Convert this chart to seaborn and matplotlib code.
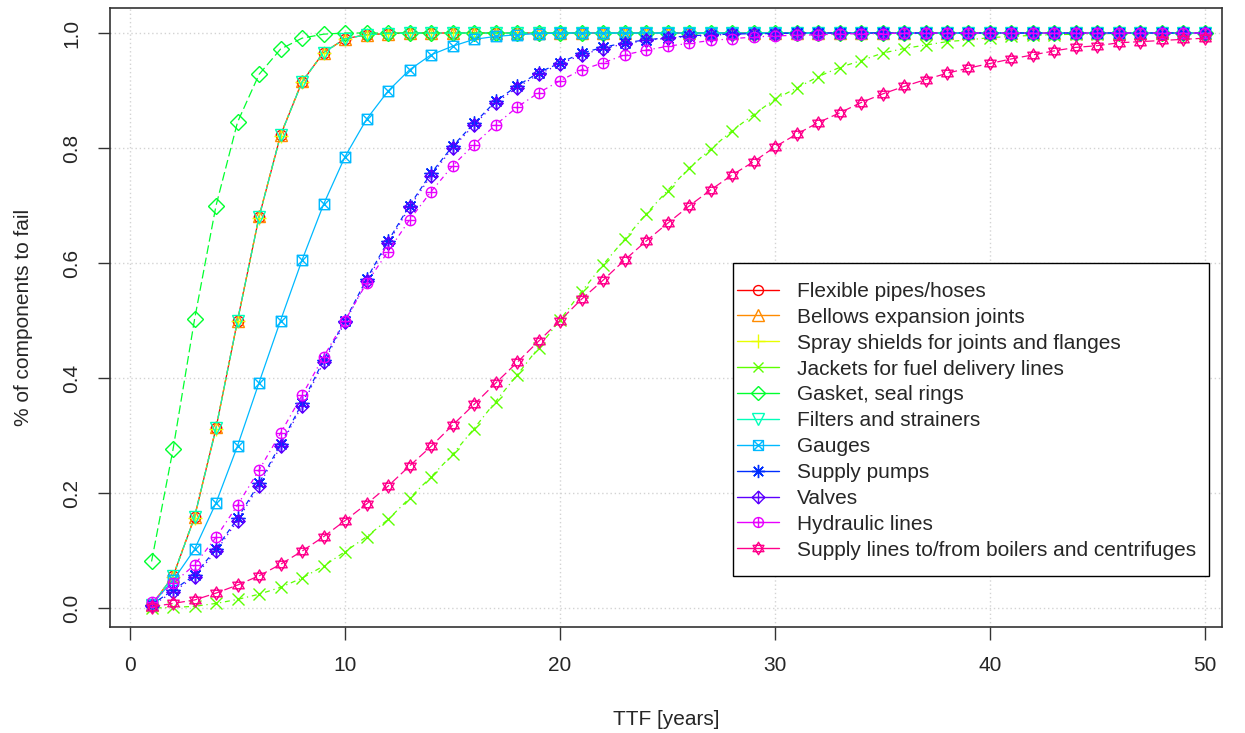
import matplotlib
matplotlib.use("Agg")
import matplotlib.pyplot as plt
from matplotlib.path import Path
from matplotlib.lines import Line2D
from matplotlib.patches import Rectangle
import seaborn as sns
import numpy as np

# time to failure [years]
ttf = list(range(1, 51))

flexible_pipes = [0.005, 0.055, 0.158, 0.313, 0.500, 0.680, 0.822, 0.915, 0.966, 0.990,
                  0.997, 0.999, 1.0, 1.0, 1.0, 1.0, 1.0, 1.0, 1.0, 1.0,
                  1.0, 1.0, 1.0, 1.0, 1.0, 1.0, 1.0, 1.0, 1.0, 1.0,
                  1.0, 1.0, 1.0, 1.0, 1.0, 1.0, 1.0, 1.0, 1.0, 1.0,
                  1.0, 1.0, 1.0, 1.0, 1.0, 1.0, 1.0, 1.0, 1.0, 1.0]
bellows_joints = [0.005, 0.056, 0.159, 0.314, 0.500, 0.681, 0.823, 0.916, 0.966, 0.990,
                  0.997, 0.999, 1.0, 1.0, 1.0, 1.0, 1.0, 1.0, 1.0, 1.0,
                  1.0, 1.0, 1.0, 1.0, 1.0, 1.0, 1.0, 1.0, 1.0, 1.0,
                  1.0, 1.0, 1.0, 1.0, 1.0, 1.0, 1.0, 1.0, 1.0, 1.0,
                  1.0, 1.0, 1.0, 1.0, 1.0, 1.0, 1.0, 1.0, 1.0, 1.0]
spray_shields = [0.005, 0.054, 0.157, 0.312, 0.499, 0.679, 0.821, 0.915, 0.965, 0.990,
                 0.997, 0.999, 1.0, 1.0, 1.0, 1.0, 1.0, 1.0, 1.0, 1.0,
                 1.0, 1.0, 1.0, 1.0, 1.0, 1.0, 1.0, 1.0, 1.0, 1.0,
                 1.0, 1.0, 1.0, 1.0, 1.0, 1.0, 1.0, 1.0, 1.0, 1.0,
                 1.0, 1.0, 1.0, 1.0, 1.0, 1.0, 1.0, 1.0, 1.0, 1.0]
fuel_jackets = [0.000, 0.001, 0.003, 0.008, 0.015, 0.024, 0.036, 0.052, 0.073, 0.098,
                0.124, 0.154, 0.191, 0.228, 0.267, 0.312, 0.359, 0.405, 0.453, 0.501,
                0.550, 0.597, 0.641, 0.685, 0.726, 0.765, 0.798, 0.830, 0.858, 0.885,
                0.904, 0.924, 0.940, 0.952, 0.965, 0.973, 0.979, 0.985, 0.988, 0.992,
                0.994, 0.996, 0.997, 0.998, 0.999, 0.999, 1.0, 1.0, 1.0, 1.0]
gasket_rings = [0.081, 0.276, 0.502, 0.700, 0.845, 0.928, 0.972, 0.991, 0.998, 1.0,
                1.0, 1.0, 1.0, 1.0, 1.0, 1.0, 1.0, 1.0, 1.0, 1.0,
                1.0, 1.0, 1.0, 1.0, 1.0, 1.0, 1.0, 1.0, 1.0, 1.0,
                1.0, 1.0, 1.0, 1.0, 1.0, 1.0, 1.0, 1.0, 1.0, 1.0,
                1.0, 1.0, 1.0, 1.0, 1.0, 1.0, 1.0, 1.0, 1.0, 1.0]
filters = [0.005, 0.055, 0.158, 0.313, 0.500, 0.680, 0.822, 0.915, 0.966, 0.990,
           0.997, 0.999, 1.0, 1.0, 1.0, 1.0, 1.0, 1.0, 1.0, 1.0,
           1.0, 1.0, 1.0, 1.0, 1.0, 1.0, 1.0, 1.0, 1.0, 1.0,
           1.0, 1.0, 1.0, 1.0, 1.0, 1.0, 1.0, 1.0, 1.0, 1.0,
           1.0, 1.0, 1.0, 1.0, 1.0, 1.0, 1.0, 1.0, 1.0, 1.0]
gauges = [0.006, 0.048, 0.102, 0.183, 0.282, 0.392, 0.500, 0.605, 0.702, 0.785,
          0.850, 0.899, 0.936, 0.962, 0.977, 0.989, 0.994, 0.997, 0.999, 1.0,
          1.0, 1.0, 1.0, 1.0, 1.0, 1.0, 1.0, 1.0, 1.0, 1.0,
          1.0, 1.0, 1.0, 1.0, 1.0, 1.0, 1.0, 1.0, 1.0, 1.0,
          1.0, 1.0, 1.0, 1.0, 1.0, 1.0, 1.0, 1.0, 1.0, 1.0]
supply_pumps = [0.006, 0.031, 0.057, 0.103, 0.156, 0.217, 0.285, 0.356, 0.431, 0.500,
                0.572, 0.638, 0.700, 0.756, 0.803, 0.843, 0.881, 0.908, 0.931, 0.948,
                0.965, 0.975, 0.983, 0.988, 0.992, 0.995, 0.997, 0.998, 0.999, 0.999,
                1.0, 1.0, 1.0, 1.0, 1.0, 1.0, 1.0, 1.0, 1.0, 1.0,
                1.0, 1.0, 1.0, 1.0, 1.0, 1.0, 1.0, 1.0, 1.0, 1.0]
valves = [0.004, 0.028, 0.054, 0.099, 0.152, 0.213, 0.281, 0.352, 0.427, 0.497,
          0.568, 0.634, 0.697, 0.752, 0.800, 0.840, 0.878, 0.905, 0.928, 0.946,
          0.962, 0.973, 0.981, 0.987, 0.991, 0.994, 0.996, 0.998, 0.999, 0.999,
          1.0, 1.0, 1.0, 1.0, 1.0, 1.0, 1.0, 1.0, 1.0, 1.0,
          1.0, 1.0, 1.0, 1.0, 1.0, 1.0, 1.0, 1.0, 1.0, 1.0]
hydraulic_lines = [0.010, 0.043, 0.075, 0.123, 0.179, 0.240, 0.304, 0.370, 0.437, 0.500,
                   0.565, 0.620, 0.675, 0.724, 0.769, 0.806, 0.840, 0.871, 0.896, 0.917,
                   0.936, 0.948, 0.962, 0.970, 0.977, 0.982, 0.987, 0.990, 0.993, 0.995,
                   0.996, 0.997, 0.998, 0.999, 0.999, 1.0, 1.0, 1.0, 1.0, 1.0,
                   1.0, 1.0, 1.0, 1.0, 1.0, 1.0, 1.0, 1.0, 1.0, 1.0]
boiler_lines = [0.002, 0.008, 0.014, 0.026, 0.040, 0.056, 0.076, 0.099, 0.124, 0.152,
                0.181, 0.212, 0.247, 0.281, 0.318, 0.354, 0.391, 0.427, 0.464, 0.500,
                0.537, 0.570, 0.605, 0.638, 0.669, 0.699, 0.727, 0.753, 0.776, 0.802,
                0.824, 0.844, 0.861, 0.879, 0.894, 0.907, 0.919, 0.930, 0.939, 0.947,
                0.955, 0.962, 0.969, 0.975, 0.978, 0.983, 0.985, 0.987, 0.989, 0.991]

labels = ["Flexible pipes/hoses", "Bellows expansion joints",
          "Spray shields for joints and flanges", "Jackets for fuel delivery lines",
          "Gasket, seal rings", "Filters and strainers", "Gauges", "Supply pumps",
          "Valves", "Hydraulic lines", "Supply lines to/from boilers and centrifuges"]
series = [flexible_pipes, bellows_joints, spray_shields, fuel_jackets, gasket_rings,
          filters, gauges, supply_pumps, valves, hydraulic_lines, boiler_lines]

# R rainbow(11)
colors = ["#FF0000", "#FF8B00", "#E8FF00", "#5DFF00", "#00FF2E", "#00FFB9",
          "#00B9FF", "#002EFF", "#5D00FF", "#E800FF", "#FF008B"]


def compound(*parts):
    return Path.make_compound_path(*parts)


def seg(a, b):
    return Path([a, b], [Path.MOVETO, Path.LINETO])


# R plotting symbols pch 7, 9, 10, 11
square_x = compound(Path([(-1, -1), (1, -1), (1, 1), (-1, 1), (-1, -1)], closed=True),
                    seg((-1, -1), (1, 1)), seg((-1, 1), (1, -1)))
diamond_plus = compound(Path([(0, 1), (1, 0), (0, -1), (-1, 0), (0, 1)], closed=True),
                        seg((-1, 0), (1, 0)), seg((0, -1), (0, 1)))
circle_plus = compound(Path.unit_circle(), seg((-1, 0), (1, 0)), seg((0, -1), (0, 1)))
c30 = np.cos(np.pi / 6)
star_david = compound(Path([(0, 1), (c30, -0.5), (-c30, -0.5), (0, 1)], closed=True),
                      Path([(0, -1), (c30, 0.5), (-c30, 0.5), (0, -1)], closed=True))

markers = ["o", "^", "+", "x", "D", "v", square_x, (8, 2, 0), diamond_plus,
           circle_plus, star_david]
msizes = [7.5, 8.5, 10, 8, 8, 8.5, 7.5, 10, 9.5, 7.5, 9.5]
lstyles = ["-", (0, (4, 3)), (0, (1, 3)), (0, (1, 3, 4, 3)), (0, (7, 3)),
           (0, (2, 2, 6, 2)), "-", (0, (4, 3)), (0, (1, 3)), (0, (1, 3, 4, 3)), (0, (7, 3))]

sns.set_style("white")
plt.rcParams["font.family"] = ["Liberation Sans", "DejaVu Sans"]

fig = plt.figure(figsize=(12.45, 7.33), dpi=100)
ax = fig.add_axes([0.0884, 0.1446, 0.8931, 0.8445])

for vals, lab, col, mk, ms, ls in zip(series, labels, colors, markers, msizes, lstyles):
    sns.lineplot(x=ttf, y=vals, ax=ax, color=col, marker=mk, markersize=ms,
                 markerfacecolor="none", markeredgecolor=col, markeredgewidth=1.0,
                 linestyle=ls, linewidth=0.9, legend=False)

ax.set_xlim(-0.93, 50.79)
ax.set_ylim(-0.033, 1.0435)
ax.set_xticks([0, 10, 20, 30, 40, 50])
ax.set_yticks([0.0, 0.2, 0.4, 0.6, 0.8, 1.0])
ax.set_yticklabels(["0.0", "0.2", "0.4", "0.6", "0.8", "1.0"], rotation=90, va="center")
ax.grid(True, color="#D3D3D3", linestyle=(0, (1, 2)), linewidth=1.0)
ax.tick_params(axis="both", direction="out", length=9, width=1, color="#333333",
               labelsize=15, pad=12, bottom=True, left=True)
for sp in ax.spines.values():
    sp.set_color("#333333")
    sp.set_linewidth(1.2)

ax.set_xlabel("TTF [years]", fontsize=15, labelpad=25)
ax.set_ylabel("% of components to fail", fontsize=15, labelpad=21)

# legend frame drawn separately (R legend has more vertical than horizontal padding)
ax.add_patch(Rectangle((0.560, 0.0824), 0.428, 0.5056, transform=ax.transAxes,
                       facecolor="white", edgecolor="black", linewidth=1.0, zorder=4))
handles = [Line2D([], [], color=c, marker=m, markersize=s * 0.95, markerfacecolor="none",
                  markeredgecolor=c, linewidth=1.0)
           for c, m, s in zip(colors, markers, msizes)]
leg = ax.legend(handles, labels, loc="upper left", bbox_to_anchor=(0.5638, 0.5575),
                fontsize=15, frameon=False, borderaxespad=0, borderpad=0,
                handlelength=2.0, handletextpad=0.9, labelspacing=0.33)
leg.set_zorder(5)

fig.savefig("out.png", dpi=100)
